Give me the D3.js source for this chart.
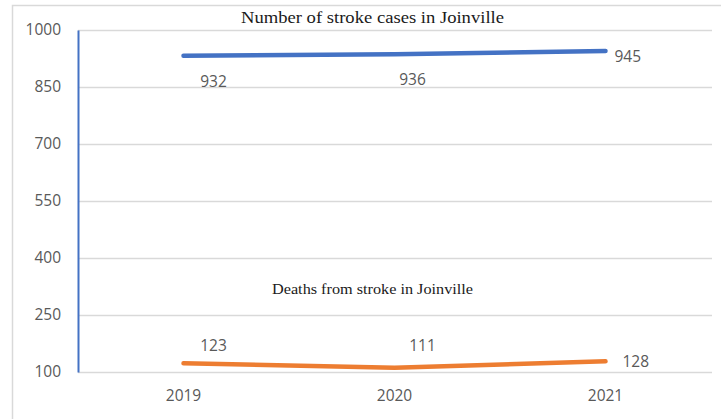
<!DOCTYPE html>
<html>
<head>
<meta charset="utf-8">
<script src="https://cdn.jsdelivr.net/npm/d3@7"></script>
<style>
  html, body { margin: 0; padding: 0; background: #fff; }
  svg { display: block; }
</style>
</head>
<body>
<svg id="chart" width="721" height="419"></svg>
<script>
// Stroke figures for Joinville
const years = ["2019", "2020", "2021"];
const strokeCases = [932, 936, 945];
const strokeDeaths = [123, 111, 128];
const yTicks = [100, 250, 400, 550, 700, 850, 1000];

const svg = d3.select("#chart");
const W = 721, H = 419;
const plot = { left: 78, right: 711, top: 30, bottom: 372 };

const x = d3.scaleBand().domain(years).range([plot.left, plot.right]).padding(0);
const y = d3.scaleLinear().domain([100, 1000]).range([plot.bottom, plot.top]);
const cx = d => x(d) + x.bandwidth() / 2;

const tickFont = "'Open Sans', 'Noto Sans', sans-serif";
const textGrey = "#595959";

// chart frame
svg.append("rect")
  .attr("x", 12.5).attr("y", 5.5)
  .attr("width", W + 20).attr("height", H + 20)
  .attr("fill", "none").attr("stroke", "#d9d9d9").attr("stroke-width", 1.5);

// horizontal gridlines
svg.append("g")
  .selectAll("line")
  .data(yTicks)
  .join("line")
  .attr("x1", plot.left).attr("x2", plot.right + 1)
  .attr("y1", d => Math.round(y(d)) + 0.5).attr("y2", d => Math.round(y(d)) + 0.5)
  .attr("stroke", "#d9d9d9").attr("stroke-width", 1.3);

// y axis
const yAxis = d3.axisLeft(y).tickValues(yTicks).tickFormat(d3.format("d")).tickSize(0).tickPadding(17);
const gy = svg.append("g").attr("transform", `translate(${plot.left},0)`).call(yAxis);
gy.select(".domain").attr("stroke", "#4472C4").attr("stroke-width", 2);
gy.selectAll("text")
  .attr("font-family", tickFont).attr("font-size", 15.5).attr("fill", textGrey);

// x axis labels
const xAxis = d3.axisBottom(x).tickSize(0).tickPadding(18);
const gx = svg.append("g").attr("transform", `translate(0,${plot.bottom})`).call(xAxis);
gx.select(".domain").remove();
gx.selectAll("text")
  .attr("font-family", tickFont).attr("font-size", 15.5).attr("fill", textGrey);

// series lines
const line = d3.line().x(d => cx(d.year)).y(d => y(d.value));
const series = [
  { name: "cases", color: "#4472C4", values: strokeCases },
  { name: "deaths", color: "#ED7D31", values: strokeDeaths }
];
series.forEach(s => {
  svg.append("path")
    .datum(years.map((yr, i) => ({ year: yr, value: s.values[i] })))
    .attr("d", line)
    .attr("fill", "none")
    .attr("stroke", s.color)
    .attr("stroke-width", 4.5)
    .attr("stroke-linecap", "round")
    .attr("stroke-linejoin", "round");
});

// value labels (offsets relative to each point)
const labelOffsets = {
  cases: [[30, 31, "middle"], [18, 31, "middle"], [9, 11, "start"]],
  deaths: [[30, -12, "middle"], [28, -17, "middle"], [17, 6, "start"]]
};
series.forEach(s => {
  svg.append("g")
    .selectAll("text")
    .data(s.values)
    .join("text")
    .attr("x", (d, i) => cx(years[i]) + labelOffsets[s.name][i][0])
    .attr("y", d => y(d))
    .attr("dy", (d, i) => labelOffsets[s.name][i][1])
    .attr("text-anchor", (d, i) => labelOffsets[s.name][i][2])
    .attr("font-family", tickFont).attr("font-size", 15.5).attr("fill", textGrey)
    .text(d => d);
});

// titles
const serif = "'Liberation Serif', 'Times New Roman', serif";
svg.append("text")
  .attr("x", 241).attr("y", 23)
  .attr("font-family", serif)
  .attr("font-size", 17.5).attr("fill", "#1a1a1a")
  .attr("textLength", 263).attr("lengthAdjust", "spacingAndGlyphs")
  .text("Number of stroke cases in Joinville");

svg.append("text")
  .attr("x", 272).attr("y", 294)
  .attr("font-family", serif)
  .attr("font-size", 15.5).attr("fill", "#1a1a1a")
  .attr("textLength", 201).attr("lengthAdjust", "spacingAndGlyphs")
  .text("Deaths from stroke in Joinville");
</script>
</body>
</html>
